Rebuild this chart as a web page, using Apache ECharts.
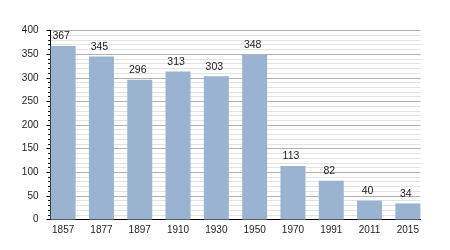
<!DOCTYPE html>
<html><head><meta charset="utf-8">
<script src="https://cdn.jsdelivr.net/npm/echarts@6/dist/echarts.min.js"></script>
<style>html,body{margin:0;padding:0;background:#fff}#c{width:450px;height:250px}</style>
</head><body><div id="c"></div>
<script>
var categories = ['1857','1877','1897','1910','1930','1950','1970','1991','2011','2015'];
var population = [367,345,296,313,303,348,113,82,40,34];
var yTicks = [0,50,100,150,200,250,300,350,400];

var chart = echarts.init(document.getElementById('c'), null, {renderer:'canvas'});
var half = 0.33;
chart.setOption({
  animation:false,
  grid:{left:50.5,right:29.5,top:30.5,bottom:30.5},
  xAxis:{
    type:'value', min:-half, max:categories.length-1+half,
    splitLine:{show:false},
    axisLine:{show:true,onZero:false,lineStyle:{color:'#000',width:1}},
    axisTick:{show:false},
    axisLabel:{
      customValues: categories.map(function(_,i){return i;}),
      formatter:function(v){return categories[Math.round(v)];},
      color:'#222', fontFamily:'Liberation Sans', fontSize:10, margin:6
    }
  },
  yAxis:{
    type:'value', min:0, max:400, interval:50,
    axisLine:{show:true,onZero:false,lineStyle:{color:'#000',width:1}},
    axisTick:{show:true,length:4,inside:false,lineStyle:{color:'#000'}},
    minorTick:{show:true,splitNumber:5,length:2.5,lineStyle:{color:'#000'}},
    splitLine:{show:true,lineStyle:{color:'#b0b0b0',width:1}},
    minorSplitLine:{show:true,lineStyle:{color:'#e2e2e2',width:1}},
    axisLabel:{color:'#222',fontFamily:'Liberation Sans',fontSize:10,margin:12,
      formatter:function(v){return yTicks.indexOf(v)>=0?String(v):'';}}
  },
  series:[{
    type:'bar',
    barWidth:25,
    data: population.map(function(v,i){return [i,v];}),
    itemStyle:{color:'#99b3d0'},
    label:{show:true,position:'top',distance:4,offset:[-2,0],color:'#222',
      fontFamily:'Liberation Sans',fontSize:10.5,
      formatter:function(p){return p.value[1];}}
  }]
});
</script></body></html>
